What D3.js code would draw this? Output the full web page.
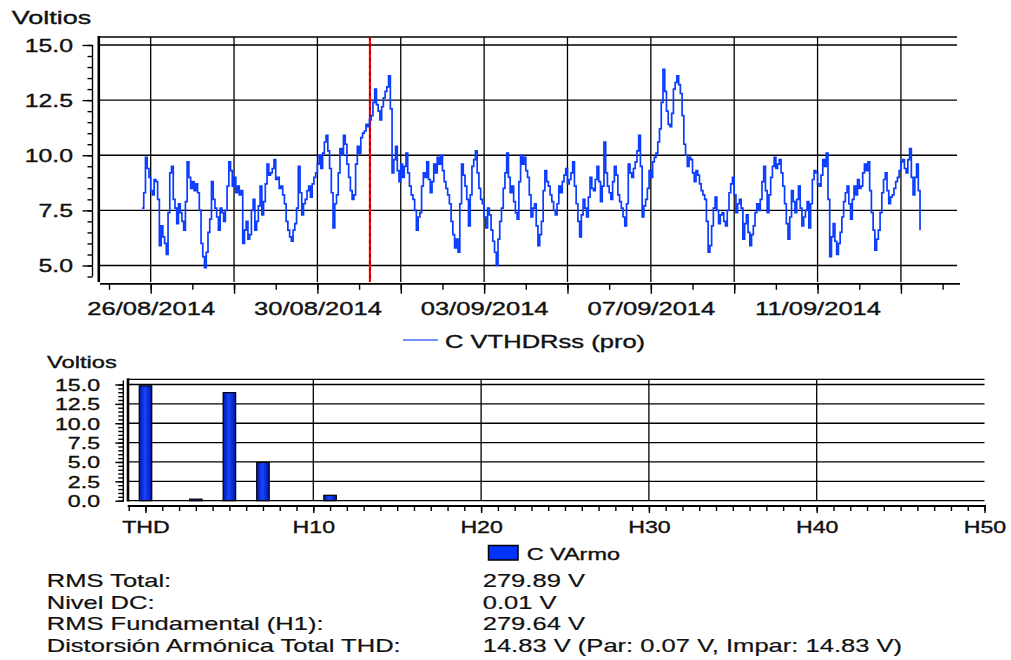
<!DOCTYPE html>
<html>
<head>
<meta charset="utf-8">
<script src="https://cdn.jsdelivr.net/npm/d3@7"></script>
<style>
  html, body { margin: 0; padding: 0; background: #fff; }
  svg { display: block; font-family: "Liberation Sans", Arial, sans-serif; }
  svg text { stroke: #111; stroke-width: 0.35px; }
  svg text.plain { stroke-width: 0.2px; }
</style>
</head>
<body>
<svg id="chart" width="1011" height="660"></svg>
<script>
// ---- Trend of voltage THD, hourly readings (UTC) ----
const trendStart = Date.UTC(2014, 7, 25, 19);
const trendStepHours = 1;
const thdVolts = [
  7.6, 8.3, 9.9, 9.4, 9.0, 8.4, 8.2, 8.9, 8.8, 8.0,
  5.9, 6.8, 6.3, 6.0, 5.5, 7.4, 9.2, 9.5, 8.0, 7.6,
  6.9, 7.8, 7.4, 7.0, 6.6, 7.9, 9.7, 9.0, 8.5, 8.8,
  8.4, 8.7, 8.3, 7.5, 6.0, 5.4, 4.9, 5.6, 6.5, 7.1,
  8.8, 8.0, 7.6, 7.2, 6.6, 7.6, 7.4, 7.0, 7.5, 8.6,
  9.7, 9.3, 8.6, 9.0, 8.3, 8.6, 8.2, 8.4, 6.0, 6.6,
  7.0, 6.2, 6.4, 7.5, 8.0, 6.6, 7.0, 7.7, 8.6, 7.3,
  7.9, 8.7, 9.6, 9.1, 9.2, 9.4, 9.8, 8.9, 9.0, 8.5,
  8.6, 8.2, 7.8, 7.0, 6.6, 6.3, 6.1, 6.6, 6.9, 7.6,
  9.5, 8.3, 7.3, 7.8, 8.0, 8.4, 8.6, 8.1, 8.7, 9.0,
  9.2, 9.6, 10.0, 9.4, 10.1, 10.6, 10.9, 10.2, 9.4, 8.3,
  6.7, 7.8, 8.2, 9.2, 10.3, 10.0, 10.9, 10.5, 9.6, 9.0,
  8.4, 8.0, 8.2, 9.6, 10.4, 10.1, 10.8, 11.0, 11.1, 11.4,
  11.3, 11.6, 11.8, 12.4, 13.0, 12.3, 12.0, 11.6, 12.2, 12.6,
  12.9, 13.1, 13.6, 12.1, 9.2, 9.8, 10.4, 9.3, 8.8, 9.6,
  9.0, 9.5, 10.1, 9.2, 8.6, 8.2,
  8.0, 7.5, 6.6, 7.2, 7.4, 8.6, 9.2, 9.0, 9.7, 8.9,
  8.3, 8.8, 9.6, 9.2, 9.9, 9.6, 10.0, 9.3, 8.8, 8.5,
  8.2, 7.8, 7.0, 6.4, 5.8, 6.2, 5.6, 7.8, 9.6, 9.1,
  8.6, 8.0, 6.8, 8.2, 9.5, 9.8, 10.2, 9.2, 8.5, 8.0,
  7.8, 7.2, 6.7, 7.6, 7.3, 6.6, 6.1, 5.6, 5.0, 6.2,
  7.0, 7.6, 8.5, 9.2, 10.1, 9.0, 8.3, 8.6, 7.9, 7.4,
  7.1, 8.8, 10.0, 9.6, 9.9, 9.3, 9.0, 8.2, 7.2, 7.6,
  7.8, 6.8, 5.9, 6.4, 7.0, 8.4, 9.3, 8.8, 8.6, 8.2,
  7.9, 7.5, 7.3, 7.8, 8.6, 8.3, 8.8, 9.1, 9.4, 8.7,
  8.9, 9.2, 9.7, 8.6, 7.8, 7.0, 6.3, 7.3, 8.0, 7.6,
  7.2, 8.1, 9.0, 8.5, 8.4, 8.9, 9.5, 8.8, 7.9, 8.6,
  10.6, 9.2, 8.6, 8.3, 8.0, 8.8, 9.5, 9.1, 8.2, 7.9,
  7.6, 7.2, 6.8, 7.8, 9.6, 9.2, 9.0, 9.4, 9.7, 10.2,
  10.9, 9.5, 7.2, 7.7, 8.0, 8.5, 9.3, 9.0, 9.7, 9.9,
  10.1, 10.6, 11.2, 12.4, 13.9, 12.9, 12.0, 11.4, 11.3, 11.9,
  13.0, 13.3, 13.6, 13.2, 12.8, 11.8,
  10.5, 10.0, 9.5, 9.9, 9.8, 9.2, 8.8, 9.3, 9.1, 8.7,
  8.4, 8.2, 8.0, 7.0, 5.6, 5.9, 6.8, 7.6, 8.1, 7.5,
  6.9, 7.3, 7.4, 7.0, 6.8, 7.5, 8.3, 8.7, 9.0, 8.2,
  7.4, 7.8, 8.0, 7.6, 6.2, 6.9, 7.3, 6.5, 5.9, 6.4,
  6.8, 7.4, 7.8, 7.5, 8.0, 8.8, 9.5, 8.4, 7.4, 8.2,
  9.0, 9.5, 9.9, 9.4, 9.6, 9.8, 9.2, 8.6, 7.8, 6.9,
  6.2, 7.2, 8.4, 7.9, 7.4, 8.0, 8.6, 7.6, 6.8, 7.2,
  7.5, 7.9, 6.7, 7.8, 8.9, 9.3, 9.2, 8.7, 8.6, 9.1,
  9.8, 9.5, 10.1, 8.0, 5.4, 6.3, 6.9, 6.1, 5.5, 6.0,
  6.5, 7.2, 7.9, 8.3, 8.6, 7.8, 7.1, 8.0, 8.6, 8.2,
  8.9, 8.5, 8.6, 9.2, 9.6, 9.3, 9.7, 8.4, 7.4, 6.6,
  5.7, 6.2, 6.6, 7.4, 8.3, 8.9, 9.2, 8.4, 7.8, 8.1,
  8.2, 8.5, 8.8, 9.0, 9.3, 9.7, 9.8, 9.4, 9.2, 9.8,
  10.3, 9.0, 8.2, 9.0, 9.6, 8.4, 6.6
];
const cursorTime = Date.UTC(2014, 7, 31, 6, 15);
const trendSeriesName = "C VTHDRss (pro)";
const trendUnit = "Voltios";
const trendVoltTicks = [5, 7.5, 10, 12.5, 15];
const trendFirstDay = Date.UTC(2014, 7, 25);
const trendLastDay = Date.UTC(2014, 8, 14);

// ---- Harmonic spectrum (order 0 = THD) ----
const harmonicOrders = [0, 3, 5, 7, 11];
const harmonicVolts = [14.83, 0.2, 13.95, 4.95, 0.7];
const harmonicLabelOrders = [0, 10, 20, 30, 40, 50];
const spectrumVoltTicks = [0, 2.5, 5, 7.5, 10, 12.5, 15];
const spectrumSeriesName = "C VArmo";

// ---- Summary ----
const summaryLabels = ["RMS Total:", "Nivel DC:", "RMS Fundamental (H1):", "Distorsión Armónica Total THD:"];
const summaryValues = ["279.89 V", "0.01 V", "279.64 V", "14.83 V (Par: 0.07 V, Impar: 14.83 V)"];

// ------------------------------------------------------------------
const SX = 1.42;          // horizontal text stretch of this report style
const INK = "#000";
const svg = d3.select("#chart");

function stretch(sel) {
  sel.each(function () {
    const t = d3.select(this);
    const x = +t.attr("x") || 0, y = +t.attr("y") || 0;
    t.attr("x", null).attr("y", null)
     .attr("transform", `translate(${x},${y}) scale(${SX},1)`);
  });
}
function addText(parent, x, y, str, size, cls) {
  const t = parent.append("text")
    .attr("x", x).attr("y", y)
    .attr("font-size", size)
    .attr("fill", "#111")
    .attr("class", cls || null)
    .text(str);
  stretch(t);
  return t;
}
function hline(g, x1, x2, y, w) {
  g.append("line").attr("x1", x1).attr("x2", x2).attr("y1", y).attr("y2", y)
    .attr("stroke", INK).attr("stroke-width", w);
}
function vline(g, x, y1, y2, w) {
  g.append("line").attr("x1", x).attr("x2", x).attr("y1", y1).attr("y2", y2)
    .attr("stroke", INK).attr("stroke-width", w);
}
function styleAxis(g) {
  g.select(".domain").remove();
  g.selectAll(".tick line").attr("stroke", INK).attr("stroke-width", 1.4);
  g.selectAll("text").attr("fill", "#111").attr("font-family", null);
}

// ================= Trend chart =================
const T = { left: 100, right: 957, top: 37, bottom: 282 };
const xT = d3.scaleUtc().domain([trendFirstDay, trendLastDay]).range([109, 942.6]);
const yT = d3.scaleLinear().domain([5, 15]).range([265.5, 45]);

const trend = svg.append("g");

// grid
trendVoltTicks.forEach(v => hline(trend, T.left, T.right, yT(v), 1.3));
hline(trend, T.left, T.right, T.top, 1.3);
const allDays = d3.utcDay.range(trendFirstDay, trendLastDay + 3600e3);
const gridDays = allDays.filter((d, i) => i % 2 === 1);
const labelDays = new Set(gridDays.filter((d, i) => i % 2 === 0).map(d => +d));
gridDays.forEach(d => vline(trend, xT(d), T.top, T.bottom, 1.3));
vline(trend, 98.8, T.top - 1, T.bottom, 2.6);

// y axis
const yMinor = d3.range(4.5, 15.01, 0.5);
const gyMinor = trend.append("g").attr("transform", "translate(92.5,0)")
  .call(d3.axisLeft(yT).tickValues(yMinor).tickSize(5).tickFormat(""));
styleAxis(gyMinor);
const gy = trend.append("g").attr("transform", "translate(92.5,0)")
  .call(d3.axisLeft(yT).tickValues(trendVoltTicks).tickSize(10).tickFormat(d3.format(".1f")));
styleAxis(gy);
gy.selectAll("text").attr("font-size", 17.5).attr("x", -19.5).attr("y", 6.3).attr("dy", null);
stretch(gy.selectAll("text"));
vline(trend, 92.5, yT(15), yT(4.5), 1.4);

// x axis
const xAxisY = 283.8;
const gxMinor = trend.append("g").attr("transform", `translate(0,${xAxisY})`)
  .call(d3.axisBottom(xT).tickValues(allDays).tickSize(6).tickFormat(""));
styleAxis(gxMinor);
const fmtDay = d3.utcFormat("%d/%m/%Y");
const gx = trend.append("g").attr("transform", `translate(0,${xAxisY})`)
  .call(d3.axisBottom(xT).tickValues(gridDays).tickSize(10)
    .tickFormat(d => labelDays.has(+d) ? fmtDay(d) : ""));
styleAxis(gx);
gx.selectAll("text").attr("font-size", 18).attr("y", 31.3).attr("dy", null);
stretch(gx.selectAll("text"));
hline(trend, T.left, 960, xAxisY, 1.8);

// cursor marker
const cx = xT(cursorTime);
trend.append("line").attr("x1", cx).attr("x2", cx).attr("y1", T.top).attr("y2", T.bottom)
  .attr("stroke", "#ff0000").attr("stroke-width", 2.2);
trend.append("line").attr("x1", cx).attr("x2", cx).attr("y1", T.top).attr("y2", T.bottom)
  .attr("stroke", "#000").attr("stroke-width", 0.9).attr("stroke-dasharray", "3,4").attr("opacity", 0.7);

// data line
const trendPoints = thdVolts.map((v, i) => ({ t: trendStart + i * trendStepHours * 3600e3, v }));
trend.append("path")
  .datum(trendPoints)
  .attr("fill", "none")
  .attr("stroke", "#0a3cff")
  .attr("stroke-width", 1.7)
  .attr("d", d3.line().x(d => xT(d.t)).y(d => yT(d.v)).curve(d3.curveStepAfter));

addText(trend, 11.7, 24, trendUnit, 19);

// legend
trend.append("line").attr("x1", 403).attr("x2", 438).attr("y1", 340).attr("y2", 340)
  .attr("stroke", "#4a6bff").attr("stroke-width", 1.6);
addText(trend, 445, 347.8, trendSeriesName, 18);

// ================= Spectrum chart =================
const S = { left: 128, right: 984.5, top: 379.3, bottom: 501 };
const xS = d3.scaleLinear().domain([0, 50]).range([145.5, 984.5]);
const yS = d3.scaleLinear().domain([0, 15]).range([500.7, 384.5]);
const spec = svg.append("g");

spectrumVoltTicks.forEach(v => hline(spec, S.left, S.right, yS(v), 1.3));
hline(spec, S.left, S.right, S.top, 1.3);
harmonicLabelOrders.filter(h => h > 0 && h < 50)
  .forEach(h => vline(spec, xS(h), S.top, S.bottom, 1.3));
vline(spec, 128, S.top - 1, S.bottom + 0.5, 2.6);

// y axis
const gsMinor = spec.append("g").attr("transform", "translate(123.3,0)")
  .call(d3.axisLeft(yS).tickValues(d3.range(0, 15.01, 0.5)).tickSize(5).tickFormat(""));
styleAxis(gsMinor);
const gs = spec.append("g").attr("transform", "translate(123.3,0)")
  .call(d3.axisLeft(yS).tickValues(spectrumVoltTicks).tickSize(8).tickFormat(d3.format(".1f")));
styleAxis(gs);
gs.selectAll("text").attr("font-size", 16.3).attr("x", -23.3).attr("y", 5.8).attr("dy", null);
stretch(gs.selectAll("text"));
vline(spec, 123.3, yS(15) - 4, yS(0) + 1, 1.4);

// x axis
const sAxisY = 506;
const gsx1 = spec.append("g").attr("transform", `translate(0,${sAxisY})`)
  .call(d3.axisBottom(xS).tickValues(d3.range(-1, 51)).tickSize(5).tickFormat(""));
styleAxis(gsx1);
const gsx = spec.append("g").attr("transform", `translate(0,${sAxisY})`)
  .call(d3.axisBottom(xS).tickValues(harmonicLabelOrders).tickSize(7)
    .tickFormat(h => h === 0 ? "THD" : "H" + h));
styleAxis(gsx);
gsx.selectAll("text").attr("font-size", 16.3).attr("y", 27.3).attr("dy", null);
stretch(gsx.selectAll("text"));
hline(spec, xS(-1) - 1, xS(50) + 1.5, sAxisY, 1.8);

// bars
const defs = svg.append("defs");
const grad = defs.append("linearGradient").attr("id", "barFill")
  .attr("x1", "0").attr("x2", "1").attr("y1", "0").attr("y2", "0");
grad.append("stop").attr("offset", "0").attr("stop-color", "#0018a8");
grad.append("stop").attr("offset", "0.45").attr("stop-color", "#1a44ff");
grad.append("stop").attr("offset", "1").attr("stop-color", "#0016a0");

const barW = 12.5;
spec.selectAll("rect.bar")
  .data(harmonicOrders.map((h, i) => ({ h, v: harmonicVolts[i] })))
  .join("rect")
  .attr("class", "bar")
  .attr("x", d => xS(d.h) - barW / 2)
  .attr("width", barW)
  .attr("y", d => yS(d.v))
  .attr("height", d => Math.max(yS(0) - yS(d.v), 1))
  .attr("fill", "url(#barFill)")
  .attr("stroke", "#000")
  .attr("stroke-width", 1.2);

addText(spec, 47, 368.3, trendUnit, 16.7);

// legend
spec.append("rect").attr("x", 488.5).attr("y", 545.5).attr("width", 29.5).attr("height", 14.5)
  .attr("fill", "#0033ff").attr("stroke", "#000").attr("stroke-width", 1.5);
addText(spec, 526.7, 560.3, spectrumSeriesName, 16.5);

// ================= Summary =================
const sum = svg.append("g");
const rowY = [587.3, 608.7, 630.2, 651.6];
summaryLabels.forEach((s, i) => addText(sum, 46.7, rowY[i], s, 18, "plain"));
summaryValues.forEach((s, i) => addText(sum, 482.7, rowY[i], s, 18, "plain"));
</script>
</body>
</html>
